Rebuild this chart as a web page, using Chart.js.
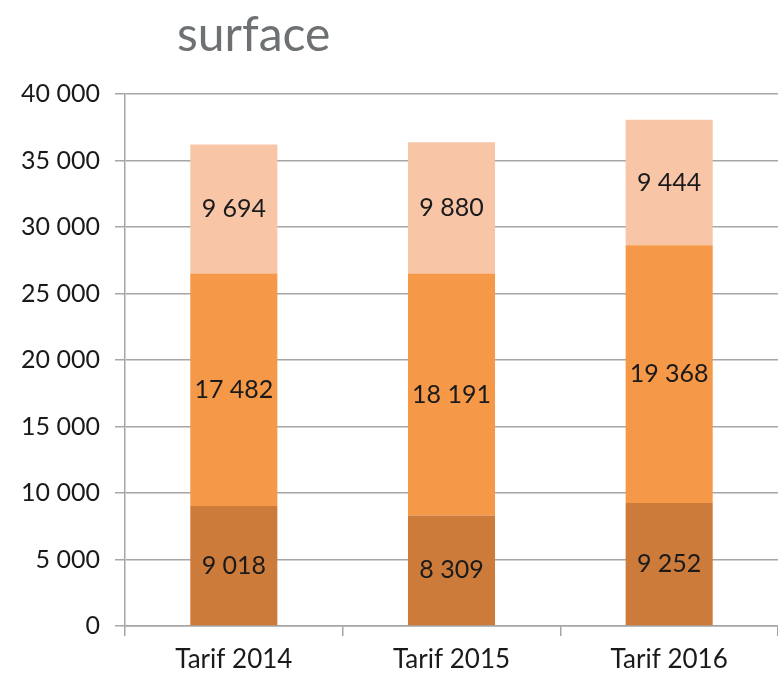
<!DOCTYPE html>
<html>
<head>
<meta charset="utf-8">
<script src="https://cdn.jsdelivr.net/npm/chart.js@4"></script>
<style>
  html, body { margin: 0; padding: 0; background: #fff; }
  #wrap { position: relative; width: 778px; height: 676px; }
  #titre {
    position: absolute; left: 177px; top: 3px;
    font-family: Lato, sans-serif; font-size: 48px; color: #6e7174;
    line-height: 60px;
  }
</style>
</head>
<body>
<div id="wrap">
  <div id="titre">surface</div>
  <canvas id="chart" width="778" height="676"></canvas>
</div>
<script>
// ── DONNÉES ────────────────────────────────────
const categories = ['Tarif 2014', 'Tarif 2015', 'Tarif 2016'];
const serieBas    = [9018, 8309, 9252];
const serieMilieu = [17482, 18191, 19368];
const serieHaut   = [9694, 9880, 9444];
const yTicks = [0, 5000, 10000, 15000, 20000, 25000, 30000, 35000, 40000];

const FONT = 'Lato, sans-serif';

// format "9 018"
function fmt(v) {
  return String(v).replace(/\B(?=(\d{3})+(?!\d))/g, ' ');
}

// étiquettes au centre de chaque segment
const etiquettes = {
  id: 'etiquettes',
  afterDatasetsDraw(chart) {
    const ctx = chart.ctx;
    ctx.save();
    ctx.font = '25px ' + FONT;
    ctx.fillStyle = '#1a1a1a';
    ctx.textAlign = 'center';
    ctx.textBaseline = 'middle';
    chart.data.datasets.forEach((ds, i) => {
      chart.getDatasetMeta(i).data.forEach((bar, j) => {
        const c = bar.getCenterPoint();
        ctx.fillText(fmt(ds.data[j]), c.x, c.y);
      });
    });
    ctx.restore();
  }
};

new Chart(document.getElementById('chart'), {
  type: 'bar',
  data: {
    labels: categories,
    datasets: [
      { data: serieBas,    backgroundColor: '#cd7b3a' },
      { data: serieMilieu, backgroundColor: '#f59847' },
      { data: serieHaut,   backgroundColor: '#f8c5a7' }
    ]
  },
  options: {
    responsive: false,
    animation: false,
    layout: { padding: { top: 94, right: 0, left: 0, bottom: 0 } },
    plugins: { legend: { display: false }, tooltip: { enabled: false } },
    datasets: { bar: { categoryPercentage: 0.4, barPercentage: 1 } },
    scales: {
      x: {
        stacked: true,
        grid: { drawOnChartArea: false, color: '#a6a6a6', lineWidth: 1.5, tickLength: 10, offset: true },
        border: { color: '#a6a6a6', width: 1.5 },
        ticks: { color: '#1a1a1a', font: { family: FONT, size: 26 }, padding: 8 },
        afterFit(s) { s.height = 50; }
      },
      y: {
        stacked: true,
        min: 0, max: 40000,
        afterBuildTicks(s) { s.ticks = yTicks.map(v => ({ value: v })); },
        grid: { color: '#a6a6a6', lineWidth: 1.5, tickLength: 10 },
        border: { color: '#a6a6a6', width: 1.5 },
        ticks: { color: '#1a1a1a', font: { family: FONT, size: 25 }, padding: 15,
                 callback: v => fmt(v) },
        afterFit(s) { s.width = 125; }
      }
    }
  },
  plugins: [etiquettes]
});
</script>
</body>
</html>
